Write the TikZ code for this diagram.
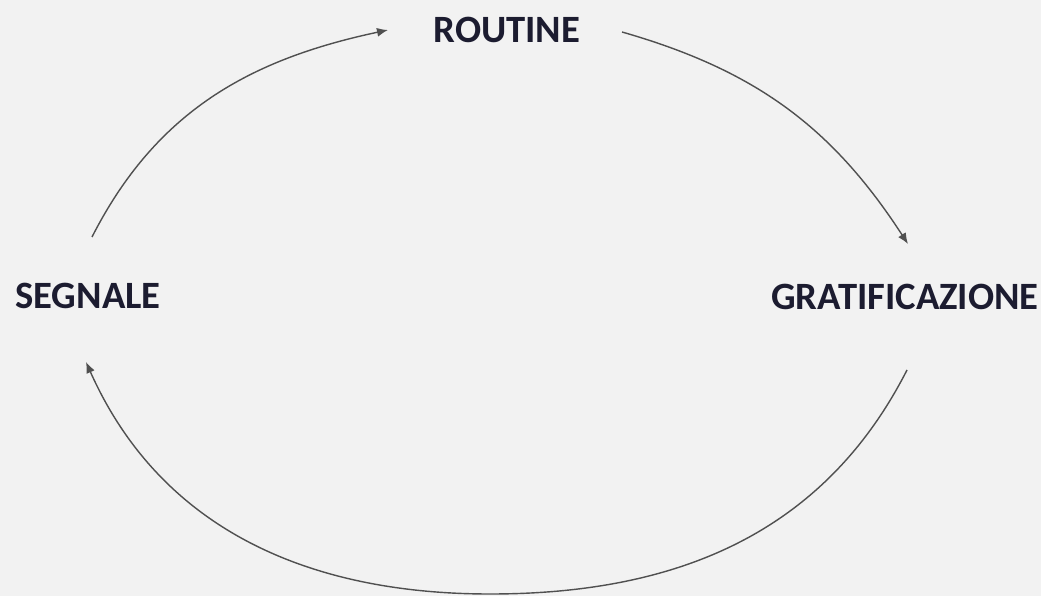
\documentclass[tikz,border=0pt]{standalone}
\usepackage{fontspec}
\setmainfont{Carlito}
\usetikzlibrary{arrows.meta}
\definecolor{bgcol}{RGB}{242,242,242}
\definecolor{txtcol}{RGB}{28,28,48}
\definecolor{arccol}{RGB}{80,80,80}

\begin{document}
\begin{tikzpicture}[
    label/.style={
        text=txtcol,
        font=\fontsize{22}{26}\selectfont\bfseries,
        inner sep=0pt
    },
    arrow/.style={-{Latex[length=2.2mm,width=1.8mm]}, draw=arccol, line width=0.8pt}
]

\fill[bgcol] (0,0) rectangle (20.82,11.92);
\useasboundingbox (0,0) rectangle (20.82,11.92);

\node[label] (routine) at (10.14,11.32) {ROUTINE};
\node[label] (segnale) at (1.76,6.0) {SEGNALE};
\node[label] (gratificazione) at (18.1,5.98) {GRATIFICAZIONE};

% arc ends
\coordinate (s1) at (1.84,7.18);
\coordinate (r1) at (7.76,11.32);
\coordinate (r2) at (12.44,11.28);
\coordinate (g1) at (18.16,7.04);
\coordinate (g2) at (18.14,4.52);
\coordinate (bot) at (9.8,0.04);
\coordinate (s2) at (1.72,4.68);

\draw[arrow] (s1) to[out=63,in=192] (r1);
\draw[arrow] (r2) to[out=-16,in=123] (g1);
\draw[arrow] (g2) to[out=-117,in=0] (bot) to[out=180,in=-66] (s2);

\end{tikzpicture}
\end{document}
